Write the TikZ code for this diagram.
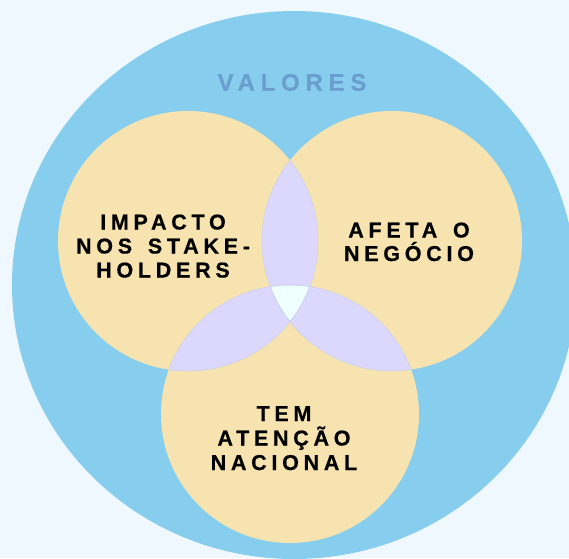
\documentclass[tikz,border=0pt]{standalone}
\usepackage{fontspec}
\setmainfont{Liberation Sans}
\newfontfamily\lblfont[LetterSpace=22,FakeBold=0.6]{Liberation Sans Bold}
\newfontfamily\valfont[LetterSpace=24,FakeBold=0.4]{Liberation Sans Bold}
\definecolor{bgc}{HTML}{EFF8FF}
\definecolor{sky}{HTML}{87CEEE}
\definecolor{wheatc}{HTML}{F7E3AF}
\definecolor{lav}{HTML}{DCD7FD}
\definecolor{azur}{HTML}{EFFFFE}
\definecolor{edgec}{HTML}{C6D2EC}
\definecolor{valc}{HTML}{6A9ECF}
\tikzset{
  lbl/.style={anchor=base, inner sep=0pt, font=\lblfont\fontsize{21.5}{24}\selectfont, text=black},
  vallbl/.style={anchor=base, inner sep=0pt, font=\valfont\fontsize{24}{28}\selectfont, text=valc},
  lensedge/.style={draw=edgec, line width=0.5pt}
}
\begin{document}
\begin{tikzpicture}[x=1pt,y=-1pt]
\useasboundingbox (0,0) rectangle (569,558);
\fill[bgc] (0,0) rectangle (569,558);
\begin{scope}
  \clip (0,0) rectangle (569,558);
  \fill[sky] (294,285) ellipse [x radius=282pt, y radius=274pt];
\end{scope}
\coordinate (cL) at (188,241);
\coordinate (cR) at (392,241);
\coordinate (cB) at (290,414);
% circles
\fill[wheatc] (cL) circle[radius=130pt];
\fill[wheatc] (cR) circle[radius=130pt];
\fill[wheatc] (cB) circle[radius=129pt];
% pairwise overlaps
\begin{scope}
  \clip (cL) circle[radius=130pt];
  \fill[lav] (cR) circle[radius=130pt];
  \fill[lav] (cB) circle[radius=129pt];
\end{scope}
\begin{scope}
  \clip (cR) circle[radius=130pt];
  \fill[lav] (cB) circle[radius=129pt];
\end{scope}
% triple overlap
\begin{scope}
  \clip (cL) circle[radius=130pt];
  \clip (cR) circle[radius=130pt];
  \fill[azur] (cB) circle[radius=129pt];
\end{scope}
% faint inner edges
\begin{scope}
  \clip (cL) circle[radius=130pt];
  \draw[lensedge] (cR) circle[radius=130pt];
  \draw[lensedge] (cB) circle[radius=129pt];
\end{scope}
\begin{scope}
  \clip (cR) circle[radius=130pt];
  \draw[lensedge] (cL) circle[radius=130pt];
  \draw[lensedge] (cB) circle[radius=129pt];
\end{scope}
\begin{scope}
  \clip (cB) circle[radius=129pt];
  \draw[lensedge] (cL) circle[radius=130pt];
  \draw[lensedge] (cR) circle[radius=130pt];
\end{scope}
% labels
\node[vallbl] (val) at (292,90.7) {VALORES};
\node[lbl] (imp1) at (163,229.5) {IMPACTO};
\node[lbl] (imp2) at (163,253.5) {NOS\hspace{5pt} STAKE-};
\node[lbl] (imp3) at (163,277.5) {HOLDERS};
\node[lbl] (afe1) at (409,237.5) {AFETA\hspace{5pt} O};
\node[lbl] (afe2) at (409,261) {NEGÓCIO};
\node[lbl] (tem1) at (284,421) {TEM};
\node[lbl] (tem2) at (284,445.5) {ATENÇÃO};
\node[lbl] (tem3) at (284,470) {NACIONAL};
\end{tikzpicture}
\end{document}
